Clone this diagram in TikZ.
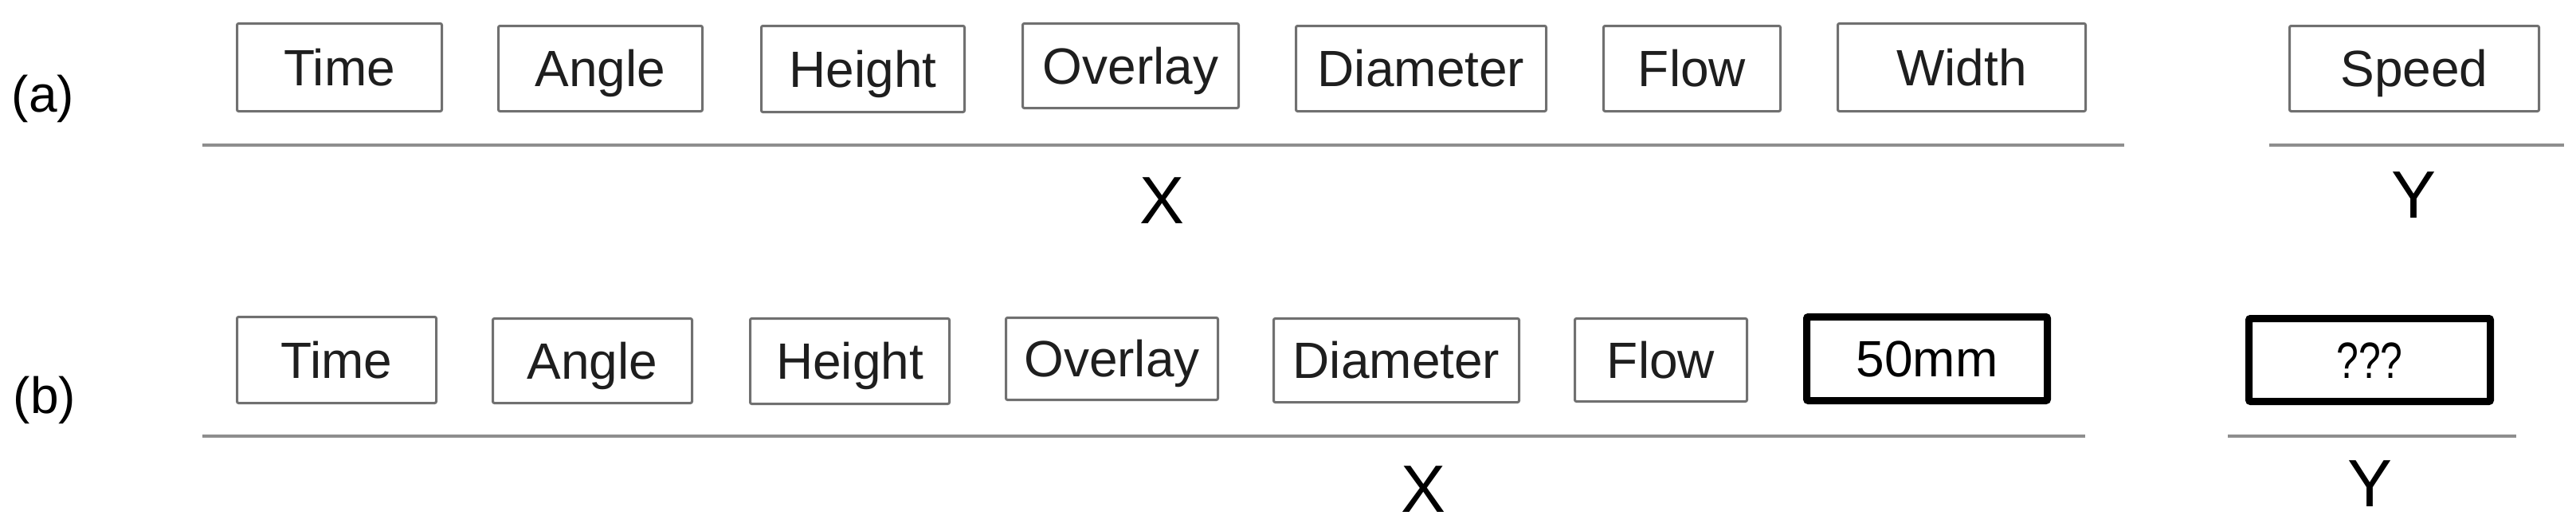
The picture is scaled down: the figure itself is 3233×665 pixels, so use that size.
\documentclass[tikz,border=0pt]{standalone}
\usepackage{fontspec}
\setmainfont{Liberation Sans}
\definecolor{boxgray}{HTML}{707070}
\definecolor{linegray}{HTML}{8E8E8E}
\definecolor{txt}{HTML}{1E1E1E}
\tikzset{
  bx/.style={draw=boxgray, line width=1.5pt, text=txt, font=\fontsize{32}{38}\selectfont,
    text height=22.9pt, text depth=0pt, inner sep=0pt, rounded corners=1pt},
  boldbx/.style={draw=black, line width=4.5pt, text=black, font=\fontsize{32}{38}\selectfont,
    text height=22.9pt, text depth=0pt, inner sep=0pt, rounded corners=1pt},
  rowlab/.style={text=black, font=\fontsize{32}{38}\selectfont, inner sep=0pt},
  axlab/.style={text=black, font=\fontsize{42}{50}\selectfont, text height=30pt, text depth=0pt, inner sep=0pt},
  axline/.style={draw=linegray, line width=2pt}
}
\begin{document}
\begin{tikzpicture}[x=0.5pt,y=-0.5pt]
\useasboundingbox[fill=white] (0,0) rectangle (3233,665);
% ---- row (a)
\node[rowlab] (la) at (54,124) {(a)};
\node[bx, minimum width=128.5pt, minimum height=55pt] (a1) at (426,84.5) {Time};
\node[bx, minimum width=128pt, minimum height=53.5pt] (a2) at (753.5,86) {Angle};
\node[bx, minimum width=127.5pt, minimum height=54pt] (a3) at (1083,86.5) {Height};
\node[bx, minimum width=135.5pt, minimum height=53pt] (a4) at (1419,82.5) {Overlay};
\node[bx, minimum width=157pt, minimum height=53.5pt] (a5) at (1783.5,86) {Diameter};
\node[bx, minimum width=111pt, minimum height=53.5pt] (a6) at (2123.5,86) {Flow};
\node[bx, minimum width=155.5pt, minimum height=55pt] (a7) at (2462,84.5) {Width};
\node[bx, minimum width=156.5pt, minimum height=53.5pt] (a8) at (3030,86) {Speed};
\coordinate (axs) at (254,182);
\coordinate (axe) at (2666,182);
\coordinate (ays) at (2848,182);
\coordinate (aye) at (3218,182);
\draw[axline] (axs) -- (axe);
\draw[axline] (ays) -- (aye);
\node[axlab] (aX) at (1458,250) {X};
\node[axlab] (aY) at (3029,243) {Y};
% ---- row (b)
\node[rowlab] (lb) at (56,502) {(b)};
\node[bx, minimum width=125pt, minimum height=54pt] (b1) at (422.5,451.5) {Time};
\node[bx, minimum width=125pt, minimum height=53pt] (b2) at (743.5,452.5) {Angle};
\node[bx, minimum width=125pt, minimum height=53.5pt] (b3) at (1066.5,453) {Height};
\node[bx, minimum width=133pt, minimum height=51.5pt] (b4) at (1395.5,450) {Overlay};
\node[bx, minimum width=154pt, minimum height=52.5pt] (b5) at (1752.5,452) {Diameter};
\node[bx, minimum width=108pt, minimum height=52pt] (b6) at (2084.5,451.5) {Flow};
\node[boldbx, minimum width=151pt, minimum height=52.5pt] (b7) at (2418.5,450) {50mm};
\node[boldbx, minimum width=151.5pt, minimum height=52pt] (b8) at (2974,451.5) {\scalebox{0.78}[1]{???}};
\coordinate (bxs) at (254,547);
\coordinate (bxe) at (2617,547);
\coordinate (bys) at (2796,547);
\coordinate (bye) at (3158,547);
\draw[axline] (bxs) -- (bxe);
\draw[axline] (bys) -- (bye);
\node[axlab] (bX) at (1786,612) {X};
\node[axlab] (bY) at (2974,605) {Y};
\end{tikzpicture}
\end{document}
